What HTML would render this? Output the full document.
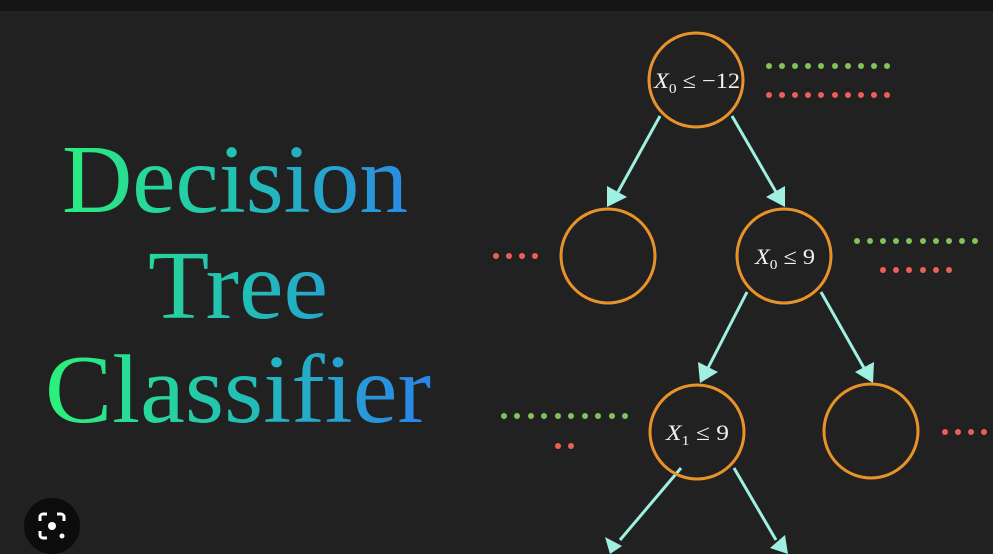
<!DOCTYPE html>
<html><head><meta charset="utf-8"><style>
html,body{margin:0;padding:0;background:#212121;}
svg{display:block}
</style></head><body>
<svg width="993" height="554" viewBox="0 0 993 554" xmlns="http://www.w3.org/2000/svg">
<defs>
<linearGradient id="g" gradientUnits="userSpaceOnUse" x1="45" y1="0" x2="430" y2="0">
<stop offset="0" stop-color="#2cf27a"/>
<stop offset="0.5" stop-color="#22c0b4"/>
<stop offset="1" stop-color="#2a84ea"/>
</linearGradient>
</defs>
<rect width="993" height="554" fill="#212121"/>
<rect width="993" height="11" fill="#141414"/>
<g font-family="'Liberation Serif', serif" font-size="97" fill="url(#g)">
<text x="62" y="212" textLength="346" lengthAdjust="spacingAndGlyphs">Decision</text>
<text x="148" y="318" textLength="180" lengthAdjust="spacingAndGlyphs">Tree</text>
<text x="45" y="422" textLength="386" lengthAdjust="spacingAndGlyphs">Classifier</text>
</g>
<g stroke="#9ff0e2" stroke-width="3" fill="none">
<line x1="660" y1="116" x2="618" y2="192"/>
<line x1="732" y1="116" x2="776" y2="192"/>
<line x1="747" y1="292" x2="708" y2="368"/>
<line x1="821" y1="292" x2="864" y2="368"/>
<line x1="681" y1="468" x2="620" y2="540"/>
<line x1="734" y1="468" x2="776" y2="540"/>
</g>
<g fill="#9ff0e2">
<polygon points="607,207 607,186 627,197"/>
<polygon points="785,207 766,197 785,186"/>
<polygon points="700,383 698,362 718,372"/>
<polygon points="873,383 855,372 874,362"/>
<polygon points="610,554 605,537 622,546"/>
<polygon points="788,554 770,548 785,535"/>
</g>
<g stroke="#e8922a" stroke-width="3" fill="none">
<circle cx="696" cy="80" r="47"/>
<circle cx="608" cy="256" r="47"/>
<circle cx="784" cy="256" r="47"/>
<circle cx="697" cy="432" r="47"/>
<circle cx="871" cy="431" r="47"/>
</g>
<g font-family="'Liberation Serif', serif" fill="#f2f2f2" font-size="22">
<text x="654" y="88" textLength="86" lengthAdjust="spacingAndGlyphs"><tspan font-style="italic">X</tspan><tspan font-size="14" dy="5">0</tspan><tspan dy="-5"> ≤ −12</tspan></text>
<text x="755" y="264" textLength="60" lengthAdjust="spacingAndGlyphs"><tspan font-style="italic">X</tspan><tspan font-size="14" dy="5">0</tspan><tspan dy="-5"> ≤ 9</tspan></text>
<text x="666" y="440" textLength="63" lengthAdjust="spacingAndGlyphs"><tspan font-style="italic">X</tspan><tspan font-size="14" dy="5">1</tspan><tspan dy="-5"> ≤ 9</tspan></text>
</g>
<g fill="#7fc35a">
<circle cx="769" cy="66" r="3"/><circle cx="782" cy="66" r="3"/><circle cx="795" cy="66" r="3"/><circle cx="808" cy="66" r="3"/><circle cx="821" cy="66" r="3"/><circle cx="835" cy="66" r="3"/><circle cx="848" cy="66" r="3"/><circle cx="861" cy="66" r="3"/><circle cx="874" cy="66" r="3"/><circle cx="887" cy="66" r="3"/>
<circle cx="857" cy="241" r="3"/><circle cx="870" cy="241" r="3"/><circle cx="883" cy="241" r="3"/><circle cx="896" cy="241" r="3"/><circle cx="909" cy="241" r="3"/><circle cx="923" cy="241" r="3"/><circle cx="936" cy="241" r="3"/><circle cx="949" cy="241" r="3"/><circle cx="962" cy="241" r="3"/><circle cx="975" cy="241" r="3"/>
<circle cx="504" cy="416" r="3"/><circle cx="517" cy="416" r="3"/><circle cx="531" cy="416" r="3"/><circle cx="544" cy="416" r="3"/><circle cx="558" cy="416" r="3"/><circle cx="571" cy="416" r="3"/><circle cx="585" cy="416" r="3"/><circle cx="598" cy="416" r="3"/><circle cx="612" cy="416" r="3"/><circle cx="625" cy="416" r="3"/>
</g>
<g fill="#ec5f57">
<circle cx="769" cy="95" r="3"/><circle cx="782" cy="95" r="3"/><circle cx="795" cy="95" r="3"/><circle cx="808" cy="95" r="3"/><circle cx="821" cy="95" r="3"/><circle cx="835" cy="95" r="3"/><circle cx="848" cy="95" r="3"/><circle cx="861" cy="95" r="3"/><circle cx="874" cy="95" r="3"/><circle cx="887" cy="95" r="3"/>
<circle cx="496" cy="256" r="3"/><circle cx="509" cy="256" r="3"/><circle cx="522" cy="256" r="3"/><circle cx="535" cy="256" r="3"/>
<circle cx="883" cy="270" r="3"/><circle cx="896" cy="270" r="3"/><circle cx="909" cy="270" r="3"/><circle cx="923" cy="270" r="3"/><circle cx="936" cy="270" r="3"/><circle cx="949" cy="270" r="3"/>
<circle cx="558" cy="446" r="3"/><circle cx="571" cy="446" r="3"/>
<circle cx="945" cy="432" r="3"/><circle cx="958" cy="432" r="3"/><circle cx="971" cy="432" r="3"/><circle cx="984" cy="432" r="3"/>
</g>
<circle cx="52" cy="526" r="28" fill="#0c0c0c"/>
<g stroke="#fff" stroke-width="3" fill="none">
<path d="M40 521 v-4 a3 3 0 0 1 3 -3 h4"/>
<path d="M57 514 h4 a3 3 0 0 1 3 3 v4"/>
<path d="M40 531 v4 a3 3 0 0 0 3 3 h4"/>
</g>
<circle cx="52" cy="526" r="4" fill="#fff"/>
<circle cx="62" cy="536" r="2.5" fill="#fff"/>
</svg>
</body></html>
